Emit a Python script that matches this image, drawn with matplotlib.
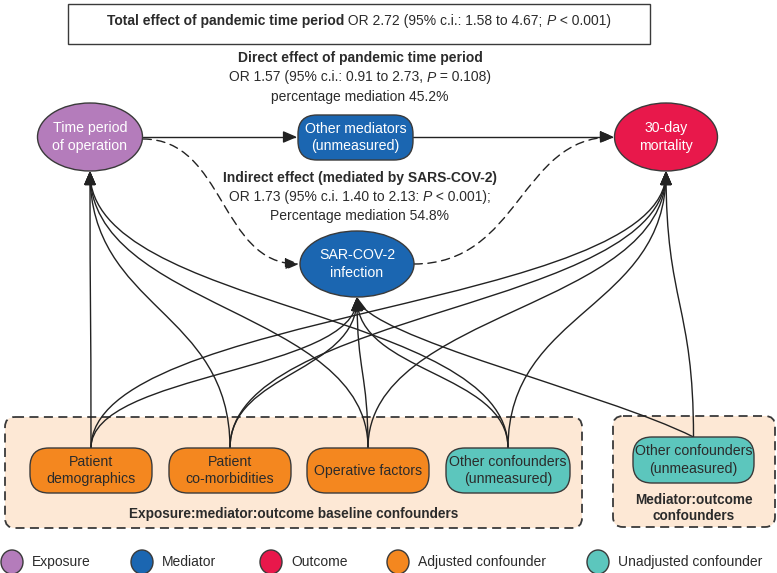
import matplotlib
matplotlib.use('Agg')
import matplotlib.pyplot as plt
from matplotlib.patches import Ellipse, FancyBboxPatch, FancyArrowPatch
from matplotlib.path import Path

plt.rcParams['font.family'] = ['Liberation Sans Narrow', 'Liberation Sans', 'DejaVu Sans']

# ============ TEXT / DATA ============
total_parts = [('Total effect of pandemic time period', 'bold', 'normal'),
               (' OR 2.72 (95% c.i.: 1.58 to 4.67; ', 'normal', 'normal'),
               ('P', 'normal', 'italic'),
               (' < 0.001)', 'normal', 'normal')]
direct_lines = [[('Direct effect of pandemic time period', 'bold', 'normal')],
                [('OR 1.57 (95% c.i.: 0.91 to 2.73, ', 'normal', 'normal'),
                 ('P', 'normal', 'italic'), (' = 0.108)', 'normal', 'normal')],
                [('percentage mediation 45.2%', 'normal', 'normal')]]
indirect_lines = [[('Indirect effect (mediated by SARS-COV-2)', 'bold', 'normal')],
                  [('OR 1.73 (95% c.i. 1.40 to 2.13: ', 'normal', 'normal'),
                   ('P', 'normal', 'italic'), (' < 0.001);', 'normal', 'normal')],
                  [('Percentage mediation 54.8%', 'normal', 'normal')]]

node_labels = {
    'tp': 'Time period\nof operation',
    'om': 'Other mediators\n(unmeasured)',
    'mo': '30-day\nmortality',
    'sc': 'SAR-COV-2\ninfection',
    'demo': 'Patient\ndemographics',
    'comorb': 'Patient\nco-morbidities',
    'oper': 'Operative factors',
    'oth1': 'Other confounders\n(unmeasured)',
    'oth2': 'Other confounders\n(unmeasured)',
}
node_kind = {'tp': 'Exposure', 'om': 'Mediator', 'mo': 'Outcome', 'sc': 'Mediator',
             'demo': 'Adjusted confounder', 'comorb': 'Adjusted confounder',
             'oper': 'Adjusted confounder', 'oth1': 'Unadjusted confounder',
             'oth2': 'Unadjusted confounder'}

baseline_conf = ['demo', 'comorb', 'oper', 'oth1']
baseline_targets = ['tp', 'sc', 'mo']
med_out_conf = ['oth2']
med_out_targets = ['sc', 'mo']

group_labels = ['Exposure:mediator:outcome baseline confounders',
                'Mediator:outcome\nconfounders']
legend_labels = ['Exposure', 'Mediator', 'Outcome', 'Adjusted confounder',
                 'Unadjusted confounder']

# ============ STYLE ============
colors = {'Exposure': '#b47cbb', 'Mediator': '#1b66b1', 'Outcome': '#e8184b',
          'Adjusted confounder': '#f4871f', 'Unadjusted confounder': '#5cc6bd'}
EDGE = '#3a3a3a'
PEACH = '#fde8d5'
TXT = '#2b2b2b'
FS_TXT = 10.0
FS_NODE = 10.2

# layout in pixel units (x right, y down)
ell = {'tp': (90, 137, 105, 68), 'mo': (666, 137, 103, 68), 'sc': (357, 264, 114, 66)}
box = {'om': (298, 115, 115, 45),
       'demo': (30, 448, 122, 45), 'comorb': (169, 448, 122, 45),
       'oper': (307, 448, 122, 45), 'oth1': (446, 448, 124, 45),
       'oth2': (633, 437, 121, 46)}

fig = plt.figure(figsize=(7.77, 5.73), dpi=100)
ax = fig.add_axes([0, 0, 1, 1])
ax.set_xlim(0, 777)
ax.set_ylim(573, 0)
ax.axis('off')
renderer = fig.canvas.get_renderer()


def rich_line(x, y, parts, size=FS_TXT, color=TXT):
    items, total = [], 0.0
    for s, w, st in parts:
        t = ax.text(0, y, s, fontsize=size, fontweight=w, fontstyle=st,
                    color=color, va='center', ha='left', zorder=6)
        wd = t.get_window_extent(renderer=renderer).width
        items.append((t, wd))
        total += wd
    x0 = x - total / 2
    for t, wd in items:
        t.set_x(x0)
        x0 += wd


# ============ GROUP BOXES ============
for (x, y, w, h) in [(5, 417, 577, 111), (613, 416, 162, 111)]:
    ax.add_patch(FancyBboxPatch((x, y), w, h, boxstyle='round,pad=0,rounding_size=10',
                                fc=PEACH, ec=EDGE, lw=1.3, ls=(0, (5, 3)), zorder=1))
ax.text(294, 514, group_labels[0], ha='center', va='center', fontsize=9.8,
        fontweight='bold', color=TXT)
ax.text(694, 508, group_labels[1], ha='center', va='center', fontsize=9.8,
        fontweight='bold', color=TXT, linespacing=1.25)

# ============ TOP TEXT ============
ax.add_patch(plt.Rectangle((68, 4), 582, 40, fc='white', ec=EDGE, lw=1.0, zorder=2))
rich_line(359, 21, total_parts)
for i, parts in enumerate(direct_lines):
    rich_line(360, 58 + i * 19.5, parts)
for i, parts in enumerate(indirect_lines):
    rich_line(360, 178 + i * 19, parts)


# ============ EDGES ============
def anchor_bottom(n):
    if n in ell:
        cx, cy, w, h = ell[n]
        return cx, cy + h / 2
    x, y, w, h = box[n]
    return x + w / 2, y + h


def anchor_top(n):
    x, y, w, h = box[n]
    return x + w / 2, y


def arrow(verts, codes, ls='-'):
    p = FancyArrowPatch(path=Path(verts, codes),
                        arrowstyle='-|>,head_length=0.7,head_width=0.3',
                        mutation_scale=12, color='#222222', lw=1.0, ls=ls, zorder=3)
    ax.add_patch(p)


C4 = [Path.MOVETO, Path.CURVE4, Path.CURVE4, Path.CURVE4]
for srcs, tgts in [(baseline_conf, baseline_targets), (med_out_conf, med_out_targets)]:
    for s in srcs:
        x0, y0 = anchor_top(s)
        for t in tgts:
            x1, y1 = anchor_bottom(t)
            d = 0.5 * (y0 - y1)
            if s == 'oth2' and t == 'sc':
                arrow([(x0, y0), (x0 - 90, y0 - 45), (x1 + 10, y1 + 40), (x1, y1)], C4)
                continue
            arrow([(x0, y0), (x0, y0 - d), (x1, y1 + d), (x1, y1)], C4)

# straight direct path
arrow([(143, 137), (297, 137)], [Path.MOVETO, Path.LINETO])
arrow([(413, 137), (614, 137)], [Path.MOVETO, Path.LINETO])
# dashed indirect path
arrow([(143, 139), (225, 139), (220, 264), (299, 264)], C4, ls=(0, (6, 4)))
arrow([(414, 264), (520, 264), (520, 137), (614, 137)], C4, ls=(0, (6, 4)))

# ============ NODES ============
for n, (cx, cy, w, h) in ell.items():
    ax.add_patch(Ellipse((cx, cy), w, h, fc=colors[node_kind[n]], ec=EDGE, lw=1.0, zorder=4))
    ax.text(cx, cy, node_labels[n], ha='center', va='center', fontsize=FS_NODE,
            color='white', linespacing=1.3, zorder=5)
for n, (x, y, w, h) in box.items():
    ax.add_patch(FancyBboxPatch((x, y), w, h, boxstyle='round,pad=0,rounding_size=19',
                                fc=colors[node_kind[n]], ec=EDGE, lw=1.0, zorder=4))
    tc = 'white' if node_kind[n] == 'Mediator' else TXT
    ax.text(x + w / 2, y + h / 2, node_labels[n], ha='center', va='center',
            fontsize=FS_NODE, color=tc, linespacing=1.3, zorder=5)

# ============ LEGEND ============
leg_x = [12, 142, 271, 398, 598]
for lx, lab in zip(leg_x, legend_labels):
    ax.add_patch(Ellipse((lx, 562), 22, 24, fc=colors[lab], ec=EDGE, lw=1.0))
    ax.text(lx + 20, 562, lab, ha='left', va='center', fontsize=10, color=TXT)

fig.savefig('out.png', dpi=100)
